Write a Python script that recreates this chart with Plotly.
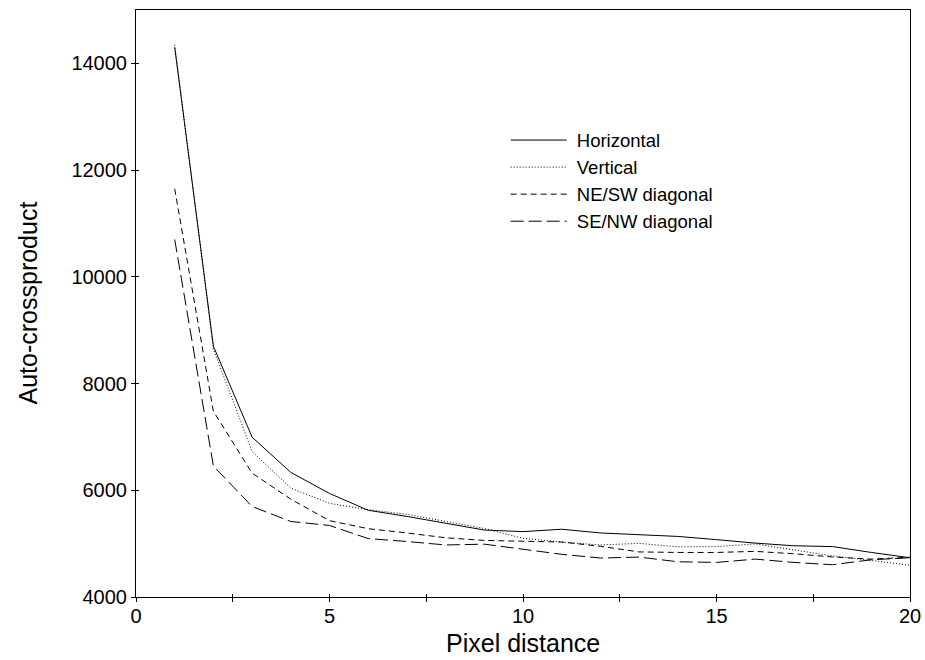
import plotly.graph_objects as go

pixel_distance = list(range(1, 21))
horizontal = [14300, 8700, 6995, 6335, 5940, 5625, 5510, 5380, 5255, 5225,
              5270, 5200, 5170, 5135, 5075, 5010, 4960, 4945, 4835, 4735]
vertical = [14350, 8650, 6725, 6040, 5755, 5635, 5550, 5420, 5285, 5100,
            5030, 4975, 5005, 4940, 4945, 4995, 4885, 4770, 4685, 4595]
ne_sw = [11650, 7480, 6321, 5834, 5430, 5280, 5200, 5110, 5060, 5045,
         5030, 4950, 4845, 4835, 4835, 4855, 4810, 4750, 4710, 4745]
se_nw = [10700, 6455, 5696, 5415, 5340, 5095, 5040, 4975, 4990, 4890,
         4800, 4730, 4748, 4660, 4648, 4710, 4648, 4605, 4698, 4735]

series_names = ["Horizontal", "Vertical", "NE/SW diagonal", "SE/NW diagonal"]
x_tickvals = [0, 2.5, 5, 7.5, 10, 12.5, 15, 17.5, 20]
x_ticktext = ["0", "", "5", "", "10", "", "15", "", "20"]
y_tickvals = [4000, 6000, 8000, 10000, 12000, 14000]
y_ticktext = ["4000", "6000", "8000", "10000", "12000", "14000"]
x_title = "Pixel distance"
y_title = "Auto-crossproduct"

FONT = "Liberation Sans, Arial, sans-serif"
dashes = ["solid", "1px,2px", "6px,4px", "13px,5px"]

fig = go.Figure()
for name, ys, d in zip(series_names, [horizontal, vertical, ne_sw, se_nw], dashes):
    fig.add_trace(go.Scatter(x=pixel_distance, y=ys, mode="lines", name="\u00a0" + name,
                             line=dict(color="black", width=1, dash=d)))

fig.update_layout(
    width=925, height=660,
    margin=dict(l=136, r=15, t=10, b=63, autoexpand=False),
    paper_bgcolor="white", plot_bgcolor="white",
    font=dict(family=FONT, color="black"),
    showlegend=True,
    legend=dict(x=0.4776, y=0.81, xanchor="left", yanchor="top",
                bgcolor="rgba(0,0,0,0)", font=dict(size=18.5, family=FONT),
                tracegroupgap=0, itemwidth=56),
    xaxis=dict(range=[0, 20], tickvals=x_tickvals, ticktext=x_ticktext,
               ticks="outside", ticklen=4, tickwidth=1, tickcolor="black",
               showline=True, linecolor="black", linewidth=1, mirror=True,
               showgrid=False, zeroline=False, automargin=False,
               ticklabelstandoff=-3, ticklabeloverflow="allow",
               tickfont=dict(size=20, family=FONT)),
    yaxis=dict(range=[4000, 15000], tickvals=y_tickvals, ticktext=y_ticktext,
               ticks="outside", ticklen=4, tickwidth=1, tickcolor="black",
               showline=True, linecolor="black", linewidth=1, mirror=True,
               showgrid=False, zeroline=False, automargin=False,
               tickfont=dict(size=20, family=FONT)),
    xaxis2=dict(overlaying="x", matches="x", range=[0, 20], tickvals=x_tickvals,
                showticklabels=False, ticks="inside", ticklen=3, tickcolor="black",
                showgrid=False, zeroline=False, showline=False, side="bottom", anchor="y"),
    yaxis2=dict(overlaying="y", matches="y", range=[4000, 15000], tickvals=y_tickvals,
                showticklabels=False, ticks="inside", ticklen=3, tickcolor="black",
                showgrid=False, zeroline=False, showline=False, side="left", anchor="x"),
    annotations=[
        dict(text=x_title, xref="paper", yref="paper", x=0.5, y=0,
             xanchor="center", yanchor="middle", yshift=-46, showarrow=False,
             font=dict(size=25, family=FONT, color="black")),
        dict(text=y_title, xref="paper", yref="paper", x=0, y=0.5,
             xanchor="center", yanchor="middle", xshift=-109, textangle=-90,
             showarrow=False, font=dict(size=25, family=FONT, color="black")),
    ],
)
fig.add_trace(go.Scatter(x=[None], y=[None], xaxis="x2", yaxis="y2",
                         showlegend=False, hoverinfo="skip"))

fig.write_html("out.html", config={"displayModeBar": False},
               post_script="document.body.style.margin='0';document.body.style.overflow='hidden';")
